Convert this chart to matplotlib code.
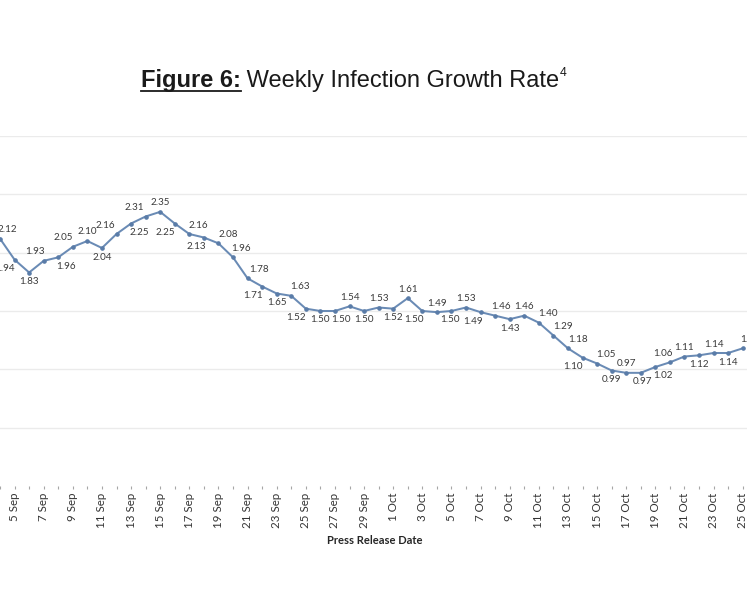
import matplotlib
matplotlib.use("Agg")
import matplotlib.pyplot as plt
from matplotlib.lines import Line2D

# ---------------- data ----------------
dates = [f"{d} Sep" for d in range(4, 31)] + [f"{d} Oct" for d in range(1, 26)]
values = [2.12, 1.94, 1.83, 1.93, 1.96, 2.05, 2.10, 2.04, 2.16, 2.25, 2.31, 2.35,
          2.25, 2.16, 2.13, 2.08, 1.96, 1.78, 1.71, 1.65, 1.63, 1.52, 1.50, 1.50,
          1.54, 1.50, 1.53, 1.52, 1.61, 1.50, 1.49, 1.50, 1.53, 1.49, 1.46, 1.43,
          1.46, 1.40, 1.29, 1.18, 1.10, 1.05, 0.99, 0.97, 0.97, 1.02, 1.06, 1.11,
          1.12, 1.14, 1.14, 1.18]
title_bold = "Figure 6:"
title_rest = " Weekly Infection Growth Rate"
title_sup = "4"
xlabel = "Press Release Date"

# label placement (style only): above/below and small horizontal shifts in px
label_side = ['a', 'b', 'b', 'a', 'b', 'a', 'a', 'b', 'a', 'b', 'a', 'a',
              'b', 'a', 'b', 'a', 'a', 'a', 'b', 'b', 'a', 'b', 'b', 'b',
              'a', 'b', 'a', 'b', 'a', 'b', 'a', 'b', 'a', 'b', 'a', 'b',
              'a', 'a', 'a', 'a', 'b', 'a', 'b', 'a', 'b', 'b', 'a', 'a',
              'b', 'a', 'b', 'a']
label_dx = [7, -10, 0, -9, 8, -10, 0, 0, -11, 8, -11, 0,
            -9, 9, -8, 10, 8, 11, -9, 0, 9, -10, 0, 6,
            0, 0, 0, 0, 0, -8, 0, -2, 0, -8, 6, 0,
            0, 9, 10, 10, -10, 9, 0, 0, 2, 8, -7, 0,
            0, 0, 0, 7]

W, H = 747, 598
fig = plt.figure(figsize=(W / 100, H / 100), dpi=100)
fig.patch.set_facecolor("white")

ax_bottom_px, ax_top_px = 486, 136
ax = fig.add_axes([0, 1 - ax_bottom_px / H, 1, (ax_bottom_px - ax_top_px) / H])

x = list(range(len(values)))
line_color = "#6A8BB5"
ax.plot(x, values, color=line_color, lw=1.45, marker="o", ms=2.3,
        markerfacecolor="#5A7CA8", markeredgecolor="#5A7CA8", zorder=3)

lab_font = "Lato"
for i, v in enumerate(values):
    dy = 9 if label_side[i] == 'a' else -9
    ax.annotate(f"{v:.2f}", (x[i], v), xytext=(label_dx[i], dy),
                textcoords="offset pixels", ha="center", va="center",
                fontsize=7.1, color="#3a3a3a", family=lab_font,
                annotation_clip=False, zorder=4)

# axes ranges: 14.66 px per day, 5 Sep at px ~10
px_per_day = 14.66
x0_px = -5
ax.set_xlim((0 - x0_px) / px_per_day, (W - x0_px) / px_per_day)
ax.set_ylim(0, 3)

for s in ax.spines.values():
    s.set_visible(False)
ax.set_yticks([0.5, 1.0, 1.5, 2.0, 2.5, 3.0])
ax.yaxis.grid(True, color="#EBEBEB", lw=1)
ax.tick_params(axis="y", left=False, labelleft=False)
ax.set_axisbelow(True)

ax.set_xticks(x)
ax.set_xticklabels([d if i % 2 == 1 else "" for i, d in enumerate(dates)],
                   rotation=90, fontsize=8.3, color="#333333", family=lab_font)
ax.tick_params(axis="x", length=2.5, width=0.8, color="#A6A6A6", pad=2.5)

fig.text(375 / W, 1 - 541 / H, xlabel, ha="center", va="center",
         fontsize=8.0, fontweight="bold", color="#262626", family=lab_font)

# ---- title with underlined bold part and superscript ----
fs = 17
tfam = "Liberation Sans"
base_px = 87
fig.canvas.draw()
r = fig.canvas.get_renderer()
t1 = fig.text(0, 1 - base_px / H, title_bold, fontsize=fs, fontweight="bold",
              family=tfam, va="baseline", color="#1a1a1a")
t2 = fig.text(0, 1 - base_px / H, title_rest, fontsize=fs, family=tfam,
              va="baseline", color="#1a1a1a")
t3 = fig.text(0, 1 - (base_px - 11) / H, title_sup, fontsize=fs * 0.52,
              family=tfam, va="baseline", color="#1a1a1a")
w1 = t1.get_window_extent(r).width
w2 = t2.get_window_extent(r).width
w3 = t3.get_window_extent(r).width
total = w1 + w2 + w3
start = 353.5 - total / 2
t1.set_x(start / W)
t2.set_x((start + w1) / W)
t3.set_x((start + w1 + w2) / W)
ul_y = 1 - (base_px + 3.5) / H
fig.add_artist(Line2D([start / W, (start + w1) / W], [ul_y, ul_y],
                      transform=fig.transFigure, color="#1a1a1a", lw=1.3))

fig.savefig("out.png", dpi=100, facecolor="white")
